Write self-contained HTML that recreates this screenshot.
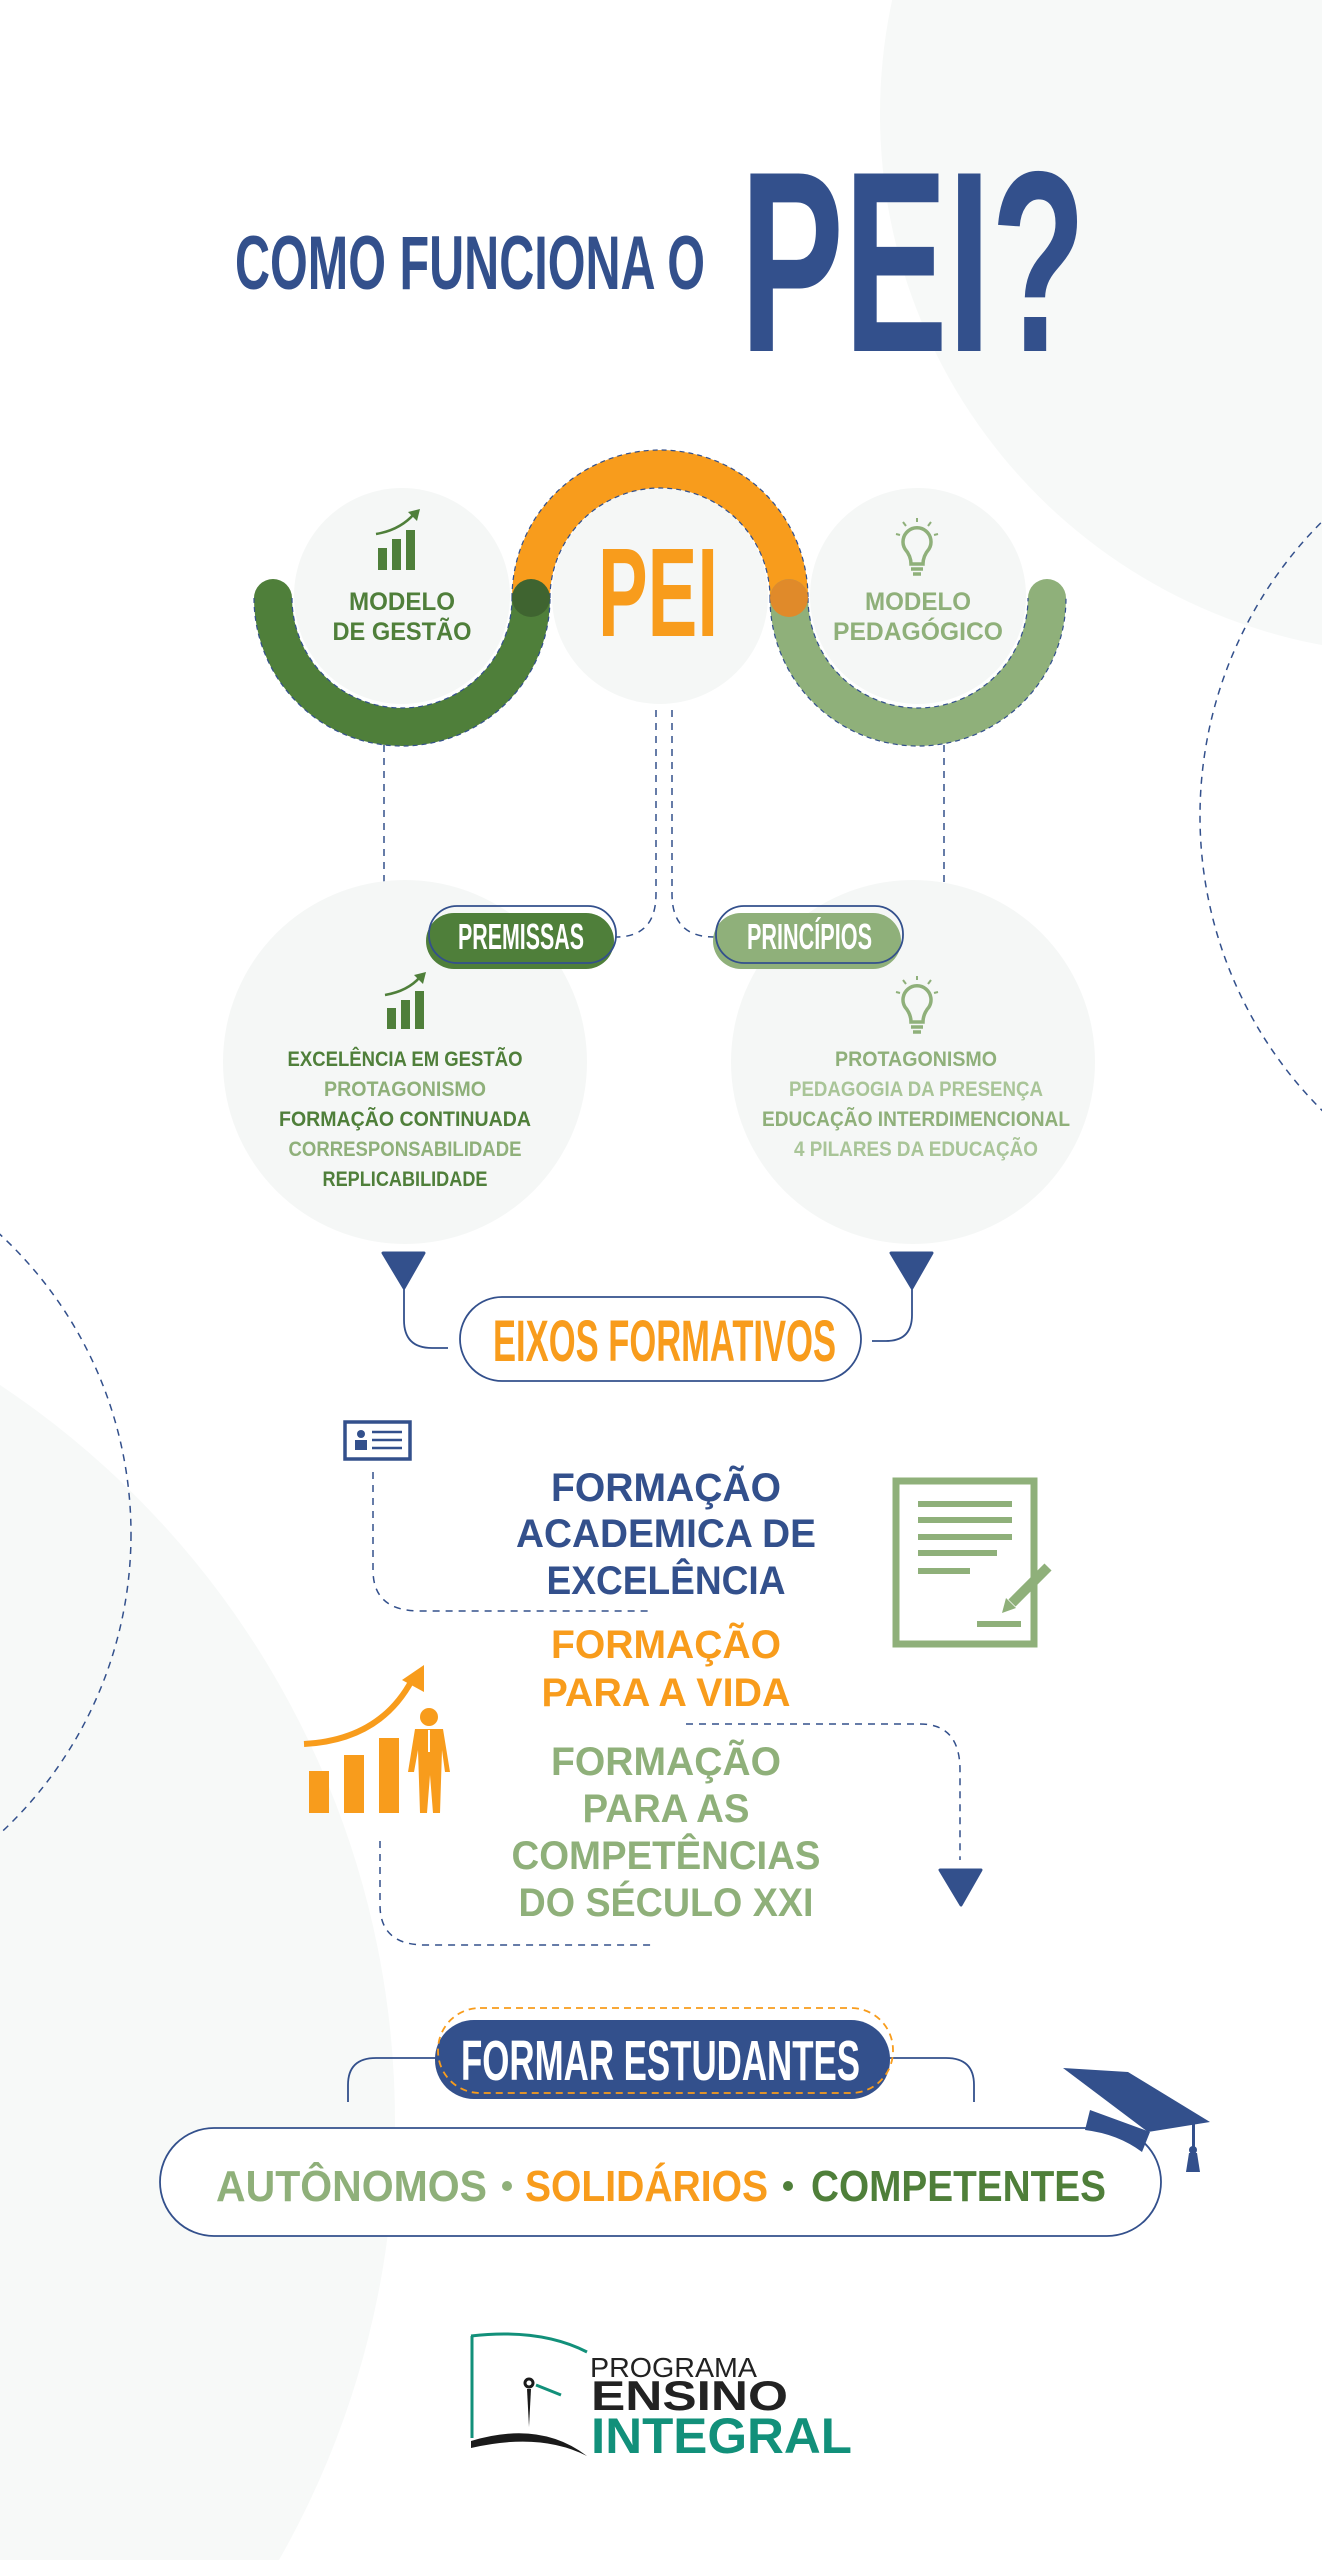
<!DOCTYPE html>
<html><head><meta charset="utf-8"><style>
html,body{margin:0;padding:0;background:#fff;width:1322px;height:2560px;overflow:hidden}
svg{display:block}
.n{font-family:"Liberation Sans Narrow","Liberation Sans",sans-serif;font-weight:bold}
.b{font-family:"Liberation Sans",sans-serif;font-weight:bold}
</style></head><body>
<svg width="1322" height="2560" viewBox="0 0 1322 2560" xmlns="http://www.w3.org/2000/svg">
<rect width="1322" height="2560" fill="#fff"/>
<circle cx="1420" cy="114" r="540" fill="#f7f9f8"/>
<circle cx="-490" cy="2122" r="885" fill="#f7f9f8"/>
<circle cx="1616" cy="816" r="416" fill="none" stroke="#33508c" stroke-width="1.5" stroke-dasharray="7 6"/>
<circle cx="-277" cy="1534" r="408" fill="none" stroke="#33508c" stroke-width="1.5" stroke-dasharray="7 6"/>

<text class="n" x="235" y="289" font-size="76" fill="#33508c" textLength="470" lengthAdjust="spacingAndGlyphs">COMO FUNCIONA O</text>
<text class="n" x="740" y="351" font-size="258" fill="#33508c" textLength="346" lengthAdjust="spacingAndGlyphs">PEI?</text>

<circle cx="402" cy="596" r="108" fill="#f5f7f6"/>
<circle cx="660" cy="596" r="108" fill="#f5f7f6"/>
<circle cx="918" cy="596" r="108" fill="#f5f7f6"/>

<g fill="none" stroke="#33508c" stroke-width="1.5" stroke-dasharray="7 6">
<path d="M384,745 V894 Q384,937 430,937"/>
<path d="M656,710 V894 Q656,937 616,937"/>
<path d="M672,710 V894 Q672,937 714,937"/>
<path d="M944,745 V894 Q944,937 900,937"/>
</g>

<g fill="none" stroke-width="38">
<path d="M273,598 A129,129 0 0 0 531,598" stroke="#4f7f3a" stroke-linecap="round"/>
<path d="M531,598 A129,129 0 0 1 789,598" stroke="#f89c1c"/>
<path d="M789,598 A129,129 0 0 0 1047,598" stroke="#8fb07a" stroke-linecap="round"/>
</g>
<g fill="none" stroke="#33508c" stroke-width="1.2" stroke-dasharray="5 4">
<path d="M254,598 A148,148 0 0 0 550,598 M292,598 A110,110 0 0 0 512,598"/>
<path d="M512,598 A148,148 0 0 1 808,598 M550,598 A110,110 0 0 1 770,598"/>
<path d="M770,598 A148,148 0 0 0 1066,598 M808,598 A110,110 0 0 0 1028,598"/>
</g>
<circle cx="531" cy="598" r="19" fill="#3f6430"/>
<circle cx="789" cy="598" r="19" fill="#e08a2a"/>

<text class="n" x="598" y="636" font-size="126" fill="#f89c1c" textLength="120" lengthAdjust="spacingAndGlyphs">PEI</text>

<text class="b" x="402" y="610" font-size="25" fill="#4f7f3a" text-anchor="middle" textLength="106" lengthAdjust="spacingAndGlyphs">MODELO</text>
<text class="b" x="402" y="640" font-size="25" fill="#4f7f3a" text-anchor="middle" textLength="139" lengthAdjust="spacingAndGlyphs">DE GESTÃO</text>
<text class="b" x="918" y="610" font-size="25" fill="#8fb07a" text-anchor="middle" textLength="106" lengthAdjust="spacingAndGlyphs">MODELO</text>
<text class="b" x="918" y="640" font-size="25" fill="#8fb07a" text-anchor="middle" textLength="170" lengthAdjust="spacingAndGlyphs">PEDAGÓGICO</text>

<g fill="#4f7f3a">
<rect x="378" y="548" width="9" height="22"/><rect x="392" y="539" width="9" height="31"/><rect x="406" y="530" width="9" height="40"/>
<path d="M376,534 Q400,530 414,514" fill="none" stroke="#4f7f3a" stroke-width="2.5"/>
<path d="M408,512 L420,509 L417,521 Z"/>
</g>
<g fill="none" stroke="#8fb07a" stroke-width="3.5">
<path d="M911,564 Q911,556 905,549 A14,14 0 1 1 929,549 Q923,556 923,564 Z"/>
<line x1="911" y1="569" x2="923" y2="569"/><line x1="913" y1="574" x2="921" y2="574"/>
<path d="M917,518 V522 M903,522 L906,526 M931,522 L928,526 M896,534 L900,535 M938,534 L934,535" stroke-width="2"/>
</g>

<circle cx="405" cy="1062" r="182" fill="#f5f7f6"/>
<circle cx="913" cy="1062" r="182" fill="#f5f7f6"/>
<g fill="#4f7f3a">
<rect x="387" y="1008" width="9" height="21"/><rect x="401" y="1000" width="9" height="29"/><rect x="415" y="991" width="9" height="38"/>
<path d="M385,995 Q408,991 420,977" fill="none" stroke="#4f7f3a" stroke-width="2.5"/>
<path d="M414,975 L426,972 L423,984 Z"/>
</g>
<g fill="none" stroke="#8fb07a" stroke-width="3.5">
<path d="M911,1022 Q911,1014 905,1007 A14,14 0 1 1 929,1007 Q923,1014 923,1022 Z"/>
<line x1="911" y1="1027" x2="923" y2="1027"/><line x1="913" y1="1032" x2="921" y2="1032"/>
<path d="M917,976 V980 M903,980 L906,984 M931,980 L928,984 M896,992 L900,993 M938,992 L934,993" stroke-width="2"/>
</g>

<rect x="426" y="913" width="188" height="56" rx="28" fill="#4f7f3a"/>
<rect x="429" y="906" width="187" height="57" rx="28" fill="none" stroke="#33508c" stroke-width="1.8"/>
<text class="n" x="458" y="949" font-size="36" fill="#fff" textLength="126" lengthAdjust="spacingAndGlyphs">PREMISSAS</text>
<rect x="713" y="913" width="188" height="56" rx="28" fill="#8fb07a"/>
<rect x="716" y="906" width="187" height="57" rx="28" fill="none" stroke="#33508c" stroke-width="1.8"/>
<text class="n" x="747" y="949" font-size="36" fill="#fff" textLength="125" lengthAdjust="spacingAndGlyphs">PRINCÍPIOS</text>

<g class="b" font-size="21" text-anchor="middle">
<text x="405" y="1066" fill="#4f7f3a" textLength="235" lengthAdjust="spacingAndGlyphs">EXCELÊNCIA EM GESTÃO</text>
<text x="405" y="1096" fill="#8fb07a" textLength="162" lengthAdjust="spacingAndGlyphs">PROTAGONISMO</text>
<text x="405" y="1126" fill="#4f7f3a" textLength="252" lengthAdjust="spacingAndGlyphs">FORMAÇÃO CONTINUADA</text>
<text x="405" y="1156" fill="#8fb07a" textLength="233" lengthAdjust="spacingAndGlyphs">CORRESPONSABILIDADE</text>
<text x="405" y="1186" fill="#4f7f3a" textLength="165" lengthAdjust="spacingAndGlyphs">REPLICABILIDADE</text>
<text x="916" y="1066" fill="#8fb07a" textLength="162" lengthAdjust="spacingAndGlyphs">PROTAGONISMO</text>
<text x="916" y="1096" fill="#a9c598" textLength="254" lengthAdjust="spacingAndGlyphs">PEDAGOGIA DA PRESENÇA</text>
<text x="916" y="1126" fill="#8fb07a" textLength="308" lengthAdjust="spacingAndGlyphs">EDUCAÇÃO INTERDIMENCIONAL</text>
<text x="916" y="1156" fill="#a9c598" textLength="244" lengthAdjust="spacingAndGlyphs">4 PILARES DA EDUCAÇÃO</text>
</g>

<path d="M383,1253 H424 L404,1288 Z" fill="#33508c" stroke="#33508c" stroke-width="3" stroke-linejoin="round"/>
<path d="M891,1253 H932 L912,1288 Z" fill="#33508c" stroke="#33508c" stroke-width="3" stroke-linejoin="round"/>
<g fill="none" stroke="#33508c" stroke-width="1.8">
<path d="M404,1288 V1320 Q404,1348 432,1348 H448"/>
<path d="M912,1288 V1315 Q912,1341 886,1341 H872"/>
<rect x="460" y="1297" width="401" height="84" rx="42" fill="#fff"/>
</g>
<text class="n" x="493" y="1361" font-size="58" fill="#f89c1c" textLength="343" lengthAdjust="spacingAndGlyphs">EIXOS FORMATIVOS</text>

<rect x="345" y="1422" width="65" height="37" fill="#fff" stroke="#33508c" stroke-width="3.5"/>
<circle cx="361" cy="1434" r="4" fill="#33508c"/><rect x="355" y="1440" width="12" height="10" fill="#33508c"/>
<g stroke="#33508c" stroke-width="2.5"><line x1="372" y1="1432" x2="402" y2="1432"/><line x1="372" y1="1440" x2="402" y2="1440"/><line x1="372" y1="1448" x2="402" y2="1448"/></g>

<g fill="none" stroke="#33508c" stroke-width="1.5" stroke-dasharray="7 6">
<path d="M373,1472 V1570 Q373,1611 420,1611 H649"/>
<path d="M686,1724 H920 Q960,1724 960,1770 V1860"/>
<path d="M380,1841 V1905 Q380,1945 425,1945 H652"/>
</g>
<path d="M940,1870 H981 L961,1905 Z" fill="#33508c" stroke="#33508c" stroke-width="3" stroke-linejoin="round"/>

<rect x="896" y="1481" width="138" height="163" fill="none" stroke="#8fb07a" stroke-width="7"/>
<g stroke="#8fb07a" stroke-width="6">
<line x1="918" y1="1504" x2="1012" y2="1504"/><line x1="918" y1="1520" x2="1012" y2="1520"/><line x1="918" y1="1537" x2="1012" y2="1537"/><line x1="918" y1="1553" x2="997" y2="1553"/><line x1="918" y1="1571" x2="970" y2="1571"/>
<line x1="977" y1="1624" x2="1021" y2="1624"/>
<line x1="1048" y1="1567" x2="1012" y2="1603" stroke-width="10"/>
</g>
<path d="M1006,1598 L1016,1608 L1002,1613 Z" fill="#8fb07a"/>

<g fill="#f89c1c">
<rect x="309" y="1771" width="20" height="42"/><rect x="344" y="1755" width="20" height="58"/><rect x="379" y="1738" width="20" height="75"/>
<path d="M304,1744 Q380,1740 412,1680" fill="none" stroke="#f89c1c" stroke-width="6"/>
<path d="M402,1680 L424,1665 L424,1692 Z"/>
<circle cx="429" cy="1717" r="9"/>
<path d="M415,1729 H443 L450,1772 H445 L442,1750 L440,1813 H433 L430,1775 L427,1813 H420 L418,1750 L414,1772 H408 Z"/>
</g>
<line x1="429" y1="1730" x2="429" y2="1752" stroke="#fff" stroke-width="2"/>

<g class="b" font-size="40" text-anchor="middle">
<text x="666" y="1501" fill="#33508c" textLength="230" lengthAdjust="spacingAndGlyphs">FORMAÇÃO</text>
<text x="666" y="1547" fill="#33508c" textLength="300" lengthAdjust="spacingAndGlyphs">ACADEMICA DE</text>
<text x="666" y="1594" fill="#33508c" textLength="239" lengthAdjust="spacingAndGlyphs">EXCELÊNCIA</text>
<text x="666" y="1658" fill="#f89c1c" textLength="230" lengthAdjust="spacingAndGlyphs">FORMAÇÃO</text>
<text x="666" y="1706" fill="#f89c1c" textLength="249" lengthAdjust="spacingAndGlyphs">PARA A VIDA</text>
<text x="666" y="1775" fill="#8fb07a" textLength="230" lengthAdjust="spacingAndGlyphs">FORMAÇÃO</text>
<text x="666" y="1822" fill="#8fb07a" textLength="167" lengthAdjust="spacingAndGlyphs">PARA AS</text>
<text x="666" y="1869" fill="#8fb07a" textLength="309" lengthAdjust="spacingAndGlyphs">COMPETÊNCIAS</text>
<text x="666" y="1916" fill="#8fb07a" textLength="295" lengthAdjust="spacingAndGlyphs">DO SÉCULO XXI</text>
</g>

<g fill="none" stroke="#33508c" stroke-width="1.8">
<path d="M348,2102 V2085 Q348,2058 376,2058 H440"/>
<path d="M974,2102 V2085 Q974,2058 946,2058 H885"/>
<rect x="160" y="2128" width="1001" height="108" rx="54" fill="#fff"/>
</g>
<rect x="435" y="2020" width="455" height="79" rx="39" fill="#33508c"/>
<rect x="438" y="2008" width="455" height="85" rx="42" fill="none" stroke="#f89c1c" stroke-width="1.8" stroke-dasharray="7 5"/>
<text class="n" x="461" y="2080" font-size="57" fill="#fff" textLength="399" lengthAdjust="spacingAndGlyphs">FORMAR ESTUDANTES</text>

<g class="b" font-size="44">
<text x="216" y="2201" fill="#8fb07a" textLength="271" lengthAdjust="spacingAndGlyphs">AUTÔNOMOS</text>
<circle cx="507" cy="2186" r="5" fill="#8fb07a"/>
<text x="525" y="2201" fill="#f89c1c" textLength="243" lengthAdjust="spacingAndGlyphs">SOLIDÁRIOS</text>
<circle cx="788" cy="2186" r="5" fill="#4f7f3a"/>
<text x="811" y="2201" fill="#4f7f3a" textLength="295" lengthAdjust="spacingAndGlyphs">COMPETENTES</text>
</g>

<g fill="#33508c">
<path d="M1063,2068 L1128,2072 L1210,2122 L1148,2132 Z"/>
<path d="M1090,2110 L1085,2130 Q1118,2134 1142,2152 L1150,2132 Z"/>
<rect x="1192" y="2122" width="3" height="26"/>
<circle cx="1193" cy="2150" r="4"/>
<path d="M1189,2153 L1197,2153 L1200,2172 L1186,2172 Z"/>
</g>

<path d="M471,2336 Q540,2328 587,2352" fill="none" stroke="#12907a" stroke-width="3"/>
<line x1="472" y1="2336" x2="472" y2="2438" stroke="#12907a" stroke-width="3"/>
<circle cx="529" cy="2383" r="4" fill="none" stroke="#1a1a1a" stroke-width="3"/>
<path d="M527,2389 L531,2389 L529,2427 Z" fill="#1a1a1a"/>
<line x1="536" y1="2385" x2="561" y2="2395" stroke="#12907a" stroke-width="3"/>
<path d="M471,2441 Q540,2420 587,2456 Q540,2432 471,2448 Z" fill="#1a1a1a"/>
<text x="590" y="2377" font-family="Liberation Sans,sans-serif" font-size="28" fill="#222" textLength="167" lengthAdjust="spacingAndGlyphs">PROGRAMA</text>
<text x="591" y="2410" font-family="Liberation Sans,sans-serif" font-weight="bold" font-size="42" fill="#222" textLength="197" lengthAdjust="spacingAndGlyphs">ENSINO</text>
<text x="591" y="2453" font-family="Liberation Sans,sans-serif" font-weight="bold" font-size="50" fill="#12907a" textLength="261" lengthAdjust="spacingAndGlyphs">INTEGRAL</text>
</svg>
</body></html>
